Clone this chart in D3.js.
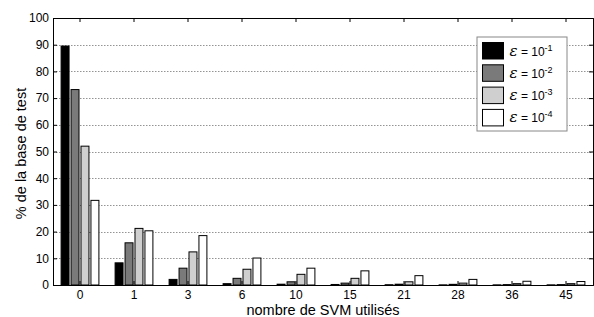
<!DOCTYPE html>
<html lang="fr">
<head>
  <meta charset="UTF-8">
  <title>nombre de SVM utilisés</title>
  <script src="https://d3js.org/d3.v7.min.js"></script>
  <style>
    body { margin: 0; background: #fff; }
    text { font-family: "Liberation Sans", Arial, sans-serif; fill: #000; }
  </style>
</head>
<body>
  <div id="chart"></div>
  <script>
    const categories = ["0", "1", "3", "6", "10", "15", "21", "28", "36", "45"];
    const seriesNames = ["-1", "-2", "-3", "-4"];
    const eps1 = [89.5, 8.3, 2.1, 0.5, 0.3, 0.2, 0.1, 0.05, 0.05, 0.05];
    const eps2 = [73.2, 15.8, 6.3, 2.5, 1.2, 0.7, 0.3, 0.25, 0.15, 0.15];
    const eps3 = [52.0, 21.2, 12.4, 5.9, 4.0, 2.5, 1.2, 0.7, 0.5, 0.5];
    const eps4 = [31.7, 20.3, 18.5, 10.1, 6.3, 5.3, 3.5, 2.1, 1.4, 1.3];
    const yTicks = [0, 10, 20, 30, 40, 50, 60, 70, 80, 90, 100];
    const colors = ["#000000", "#7a7a7a", "#cfcfcf", "#ffffff"];
    const series = [eps1, eps2, eps3, eps4];

    const width = 594;
    const height = 317;
    const margin = { top: 18, right: 1, bottom: 32, left: 53 };
    const plotW = width - margin.left - margin.right;
    const plotH = height - margin.top - margin.bottom;

    const svg = d3.select("#chart")
      .append("svg")
      .attr("width", width)
      .attr("height", height);

    const g = svg.append("g")
      .attr("transform", `translate(${margin.left},${margin.top})`);

    const x = d3.scaleBand()
      .domain(categories)
      .range([0, plotW]);

    const xInner = d3.scaleBand()
      .domain(d3.range(series.length))
      .range([x.bandwidth() * 0.15, x.bandwidth() * 0.85])
      .paddingInner(0.2);

    const y = d3.scaleLinear()
      .domain([0, 100])
      .range([plotH, 0]);

    // dotted grid
    g.selectAll(".grid")
      .data(yTicks.filter(d => d > 0 && d < 100))
      .enter()
      .append("line")
      .attr("x1", 0)
      .attr("x2", plotW)
      .attr("y1", d => Math.round(y(d)) + 0.5)
      .attr("y2", d => Math.round(y(d)) + 0.5)
      .attr("stroke", "#666")
      .attr("stroke-width", 0.7)
      .attr("stroke-dasharray", "1.5,1.5");

    // bars
    const groups = g.selectAll(".group")
      .data(categories)
      .enter()
      .append("g")
      .attr("transform", d => `translate(${x(d)},0)`);

    groups.selectAll("rect")
      .data((d, i) => series.map((s, k) => ({ k, v: s[i] })))
      .enter()
      .append("rect")
      .attr("x", d => xInner(d.k))
      .attr("y", d => y(d.v))
      .attr("width", xInner.bandwidth())
      .attr("height", d => y(0) - y(d.v))
      .attr("fill", d => colors[d.k])
      .attr("stroke", "#000")
      .attr("stroke-width", 1);

    // axes
    const xAxis = d3.axisBottom(x).tickSize(-4).tickPadding(5);
    const xTop = d3.axisTop(x).tickSize(-4).tickFormat("");
    const yAxis = d3.axisLeft(y).tickValues(yTicks).tickSize(-4).tickPadding(4);
    const yRight = d3.axisRight(y).tickValues(yTicks).tickSize(-4).tickFormat("");

    function styleAxis(sel) {
      sel.select(".domain").attr("stroke", "#000");
      sel.selectAll(".tick line").attr("stroke", "#000");
      sel.selectAll(".tick text")
        .style("font-size", "12px")
        .style("font-family", "'Liberation Sans', Arial, sans-serif");
    }

    g.append("g").attr("transform", `translate(0,${plotH})`).call(xAxis).call(styleAxis);
    g.append("g").call(xTop).call(styleAxis);
    g.append("g").call(yAxis).call(styleAxis);
    g.append("g").attr("transform", `translate(${plotW},0)`).call(yRight).call(styleAxis);

    // axis labels
    svg.append("text")
      .attr("x", margin.left + plotW / 2)
      .attr("y", 315)
      .attr("text-anchor", "middle")
      .style("font-size", "14.5px")
      .text("nombre de SVM utilisés");

    svg.append("text")
      .attr("transform", `translate(26,${margin.top + plotH / 2 + 2}) rotate(-90)`)
      .attr("text-anchor", "middle")
      .style("font-size", "14.5px")
      .text("% de la base de test");

    // legend
    const legend = svg.append("g").attr("transform", "translate(477,37)");
    legend.append("rect")
      .attr("width", 90)
      .attr("height", 94)
      .attr("fill", "#fff")
      .attr("stroke", "#888");

    const items = legend.selectAll(".item")
      .data(seriesNames)
      .enter()
      .append("g")
      .attr("transform", (d, i) => `translate(5.5,${5.5 + i * 22.3})`);

    items.append("rect")
      .attr("width", 21)
      .attr("height", 16.5)
      .attr("fill", (d, i) => colors[i])
      .attr("stroke", "#000");

    const lt = items.append("text")
      .attr("x", 27)
      .attr("y", 13)
      .style("font-size", "12px");
    lt.append("tspan")
      .style("font-family", "'DejaVu Serif', serif")
      .style("font-style", "italic")
      .style("font-size", "15px")
      .text("ε");
    lt.append("tspan").text(" = 10");
    lt.append("tspan")
      .attr("dy", -5)
      .style("font-size", "9px")
      .text(d => d);
  </script>
</body>
</html>
